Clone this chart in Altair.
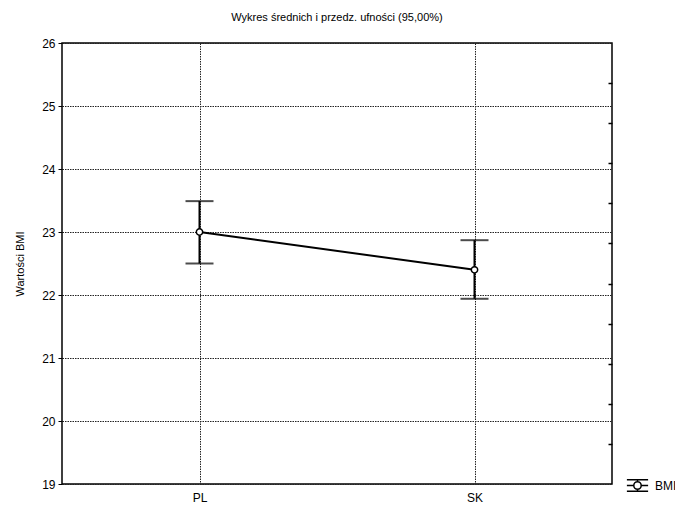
import altair as alt
import pandas as pd

categories = ["PL", "SK"]
means = [23.0, 22.40]
lower = [22.50, 21.94]
upper = [23.49, 22.87]
series = ["BMI", "BMI"]
y_ticks = [19, 20, 21, 22, 23, 24, 25, 26]
right_ticks = [1, 2, 3, 4, 5, 6, 7, 8, 9, 10]

df = pd.DataFrame({"cat": categories, "mean": means, "lo": lower, "hi": upper, "series": series})
df_rt = pd.DataFrame({"rt": right_ticks})

FONT = "Liberation Sans"
W, H = 550, 441

xenc = alt.X("cat:N", sort=categories, title=None,
             scale=alt.Scale(type="point", padding=0.5),
             axis=alt.Axis(grid=True, gridDash=[1.5, 1], gridColor="#222", gridWidth=1, ticks=False,
                           labelAngle=0, labelPadding=8, labelFontSize=12, labelFont=FONT,
                           labelColor="black", domain=False))
yscale = alt.Scale(domain=[19, 26], nice=False, zero=False)
yaxis = alt.Axis(values=y_ticks, grid=True, gridDash=[1.5, 1], gridColor="#222", gridWidth=1,
                 tickSize=4, tickColor="black", labelFontSize=12, labelFont=FONT,
                 labelColor="black", labelPadding=3, domain=False,
                 title="Wartości BMI", titleFont=FONT, titleFontSize=11,
                 titleFontWeight="normal", titleColor="black", titlePadding=16)

base = alt.Chart(df)

rules = base.mark_rule(color="black", strokeWidth=2).encode(
    x=xenc, y=alt.Y("lo:Q", scale=yscale, axis=yaxis), y2="hi:Q")
cap_lo = base.mark_tick(color="black", size=28, thickness=2, orient="horizontal").encode(
    x=xenc, y=alt.Y("lo:Q", scale=yscale, axis=yaxis))
cap_hi = base.mark_tick(color="black", size=28, thickness=2, orient="horizontal").encode(
    x=xenc, y=alt.Y("hi:Q", scale=yscale, axis=yaxis))
line = base.mark_line(strokeWidth=2).encode(
    x=xenc, y=alt.Y("mean:Q", scale=yscale, axis=yaxis),
    color=alt.Color("series:N", scale=alt.Scale(range=["black"]),
                    legend=alt.Legend(title=None, orient="none", legendX=564, legendY=431,
                                      symbolType="M-1,-0.55H1M-1,0.55H1M-1,0H-0.35M0.35,0H1M0,-0.55V-0.35M0,0.35V0.55M0.35,0A0.35,0.35 0 1,1 -0.35,0A0.35,0.35 0 1,1 0.35,0Z",
                                      symbolFillColor="white", symbolStrokeColor="black",
                                      symbolStrokeWidth=1.5, symbolSize=450, labelOffset=6,
                                      labelFont=FONT, labelFontSize=12, labelColor="black")))
pts = base.mark_point(filled=True, fill="white", stroke="black", strokeWidth=1.5,
                      size=40, opacity=1).encode(
    x=xenc, y=alt.Y("mean:Q", scale=yscale, axis=yaxis))

main = alt.layer(rules, cap_lo, cap_hi, line, pts)

right = alt.Chart(df_rt).mark_point(opacity=0).encode(
    y=alt.Y("rt:Q", scale=alt.Scale(domain=[0, 11], nice=False, zero=False),
            axis=alt.Axis(orient="right", values=right_ticks, labels=False, domain=False,
                          grid=False, tickSize=4, tickColor="black", tickWidth=1.5,
                          offset=-4, title=None)))

chart = alt.layer(main, right).resolve_scale(y="independent").properties(
    width=W, height=H,
    autosize=alt.AutoSizeParams(type="none"),
    padding={"left": 54, "top": 35, "right": 63, "bottom": 22},
    title=alt.TitleParams("Wykres średnich i przedz. ufności (95,00%)", font=FONT,
                          fontSize=11, fontWeight="normal", color="black",
                          anchor="middle", offset=14),
).configure(background="white").configure_view(stroke="black", strokeWidth=1.5)

chart.save("out.html", embed_options={"renderer": "svg", "actions": False})
